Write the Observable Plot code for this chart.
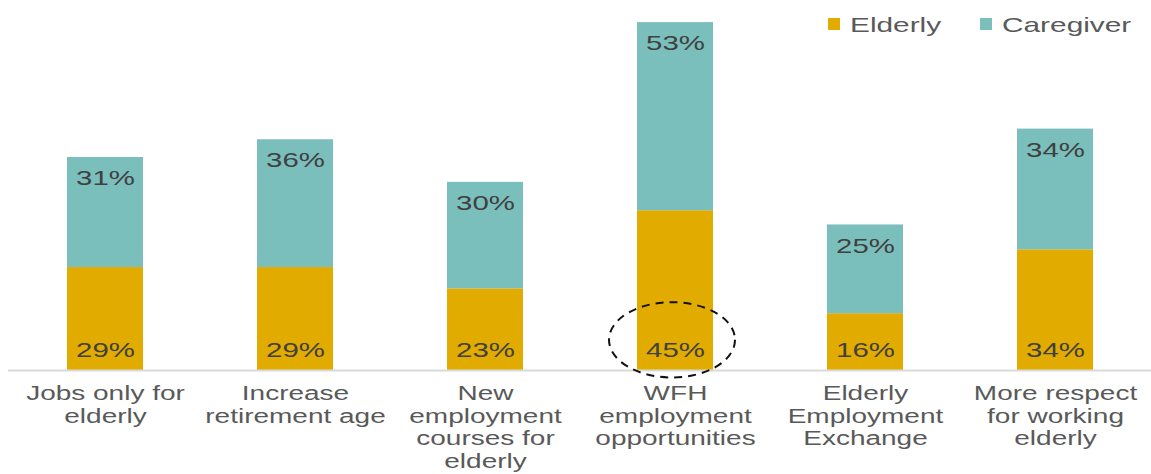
<!DOCTYPE html>
<html><head><meta charset="utf-8">
<script src="https://cdn.jsdelivr.net/npm/d3@7"></script>
<script src="https://cdn.jsdelivr.net/npm/@observablehq/plot@0.6"></script>
<style>
body{margin:0;background:#fff;font-family:"Liberation Sans",Arial,sans-serif}
#wrap{position:relative;width:1151px;height:474px}
#legend{position:absolute;left:0;top:0;width:1151px;height:50px;font-size:21px;color:#595959}
#legend .sw{position:absolute;width:12px;height:12px;top:18px}
#legend .lab{position:absolute;top:13px;line-height:24px;transform:scaleX(1.42);transform-origin:0 50%;white-space:nowrap}
</style></head><body><div id="wrap"><div id="legend"></div></div>
<script>
const categories = ["Jobs only for\nelderly","Increase\nretirement age","New\nemployment\ncourses for\nelderly","WFH\nemployment\nopportunities","Elderly\nEmployment\nExchange","More respect\nfor working\nelderly"];
const elderly = [29,29,23,45,16,34];
const caregiver = [31,36,30,53,25,34];
const seriesNames = ["Elderly","Caregiver"];
const seriesColors = ["#E2AB00","#7BBFBD"];
const highlighted = "WFH\nemployment\nopportunities";

const data = categories.flatMap((c,i)=>[
  {category:c, series:"Elderly", value:elderly[i]},
  {category:c, series:"Caregiver", value:caregiver[i]}
]);
const elderlyLabels = categories.map((c,i)=>({category:c, y:0, label:elderly[i]+"%"}));
const careLabels = categories.map((c,i)=>({category:c, y:elderly[i]+caregiver[i], label:caregiver[i]+"%"}));

function ellipseMark(index, scales, values, dims) {
  const n = categories.length;
  const W = dims && dims.width ? dims.width : 1151;
  const ml = dims && dims.marginLeft != null ? dims.marginLeft : 8;
  const mr = dims && dims.marginRight != null ? dims.marginRight : 0;
  const step = (W - ml - mr)/n;
  let cx = scales.x ? scales.x(highlighted) : NaN;
  let bw = scales.x ? scales.x.bandwidth : undefined;
  if (typeof bw === "function") bw = bw();
  if (!Number.isFinite(bw)) bw = step*0.4;
  if (Number.isFinite(cx)) cx += bw/2;
  else cx = ml + step*(categories.indexOf(highlighted)+0.5);
  cx -= 3;
  const y = scales.y;
  const cy = y(8.5);
  const ry = y(0) - y(10.6);
  const el = document.createElementNS("http://www.w3.org/2000/svg","ellipse");
  el.setAttribute("cx", cx); el.setAttribute("cy", cy);
  el.setAttribute("rx", 63); el.setAttribute("ry", ry);
  el.setAttribute("fill","none"); el.setAttribute("stroke","#111");
  el.setAttribute("stroke-width","2"); el.setAttribute("stroke-dasharray","8,6");
  const g = document.createElementNS("http://www.w3.org/2000/svg","g");
  g.appendChild(el);
  return g;
}

const chart = Plot.plot({
  width:1151, height:474,
  marginLeft:8, marginRight:0, marginTop:15, marginBottom:104,
  style:{fontFamily:"Liberation Sans, Arial, sans-serif", background:"#fff"},
  x:{domain:categories, paddingInner:0.6, paddingOuter:0.3, label:null},
  y:{domain:[0,100], axis:null},
  color:{domain:seriesNames, range:seriesColors},
  marks:[
    Plot.barY(data, {x:"category", y:"value", fill:"series", order:seriesNames}),
    Plot.ruleY([0], {stroke:"#D9D9D9", strokeWidth:2}),
    Plot.text(elderlyLabels, {x:"category", y:"y", text:"label", dy:-20, fontSize:21, fill:"#404040"}),
    Plot.text(careLabels, {x:"category", y:"y", text:"label", dy:21, fontSize:21, fill:"#404040"}),
    Plot.axisX({tickSize:0, tickPadding:14, fontSize:20, lineHeight:1.12, fill:"#595959", label:null}),
    ellipseMark
  ]
});
document.getElementById("wrap").appendChild(chart);
// horizontally widen glyphs to match the reference's stretched type
chart.querySelectorAll("text").forEach(t => {
  const tr = t.getAttribute("transform");
  if (tr) t.setAttribute("transform", tr + " scale(1.4,1)");
});
const legend = document.getElementById("legend");
const legendX = [[828,850],[980,1002]];
seriesNames.forEach((s,i)=>{
  const sw = document.createElement("div"); sw.className="sw"; sw.style.background=seriesColors[i]; sw.style.left=legendX[i][0]+"px";
  const t = document.createElement("span"); t.className="lab"; t.textContent=s; t.style.left=legendX[i][1]+"px";
  legend.appendChild(sw); legend.appendChild(t);
});
</script></body></html>
